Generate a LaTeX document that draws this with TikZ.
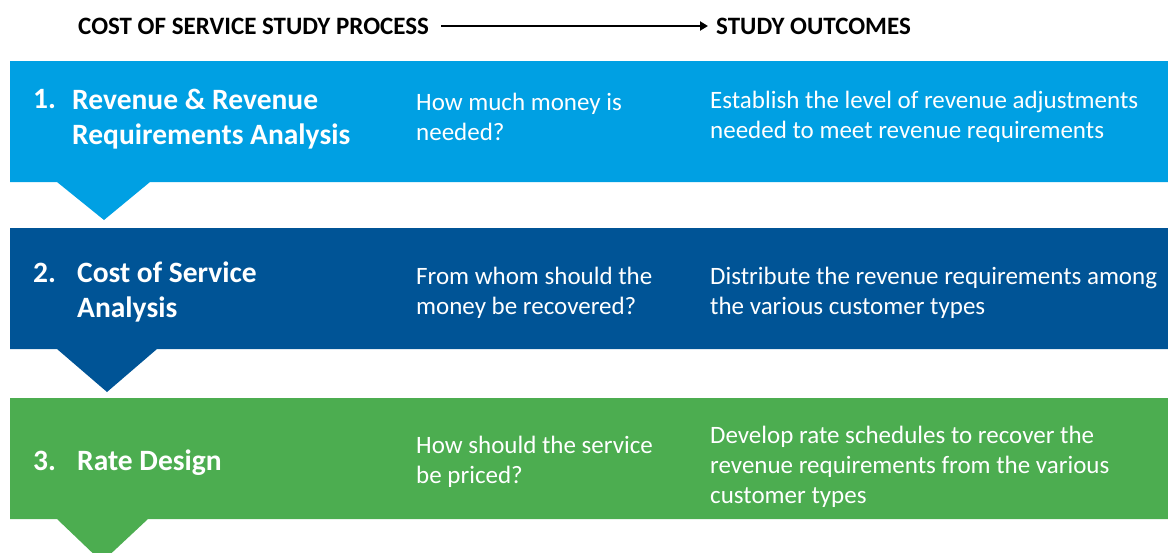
\documentclass[tikz,border=0pt]{standalone}
\usepackage{fontspec}
\setmainfont{Carlito}
\usetikzlibrary{positioning, arrows.meta}
\definecolor{stepone}{RGB}{0,160,227}
\definecolor{steptwo}{RGB}{0,84,150}
\definecolor{stepthree}{RGB}{76,173,80}
\tikzset{
heading/.style={font=\fontsize{25}{30}\selectfont\bfseries, text=black, inner sep=0pt, anchor=west},
steptitle/.style={font=\fontsize{29.5}{35}\selectfont\bfseries, text=white, inner sep=0pt, align=left, anchor=west},
stepbody/.style={font=\fontsize{25}{30}\selectfont, text=white, inner sep=0pt, align=left, anchor=west},
}

\begin{document}
\begin{tikzpicture}[x=1pt, y=-1pt]
    \useasboundingbox (0,0) rectangle (1168,552);
    \clip (0,0) rectangle (1168,552);

    %header
    \node[heading] (process) at (78,26) {COST OF SERVICE STUDY PROCESS};
    \node[heading] (outcomes) at (716,26) {STUDY OUTCOMES};
    \draw[-{Triangle[length=8pt, width=9pt]}, line width=2pt] ([xshift=12pt]process.east) -- ([xshift=-8pt]outcomes.west);

    %bands
    \fill[stepone] (10,61) -- (1168,61) -- (1168,182) -- (150,182) -- (104,220) -- (57,182) -- (10,182) -- cycle;
    \fill[steptwo] (10,228) -- (1168,228) -- (1168,349) -- (157,349) -- (107,392) -- (57,349) -- (10,349) -- cycle;
    \fill[stepthree] (10,398) -- (1168,398) -- (1168,519) -- (148,519) -- (102,562) -- (57,519) -- (10,519) -- cycle;

    %step 1
    \node[steptitle] (num1) at (33,99) {1.};
    \node[steptitle] (title1) at (72,119) {Revenue \& Revenue\\Requirements Analysis};
    \node[stepbody] (ask1) at (416,117) {How much money is\\needed?};
    \node[stepbody] (out1) at (710,117) {Establish the level of revenue adjustments\\needed to meet revenue requirements};

    %step 2
    \node[steptitle] (num2) at (33,273) {2.};
    \node[steptitle] (title2) at (77,292) {Cost of Service\\Analysis};
    \node[stepbody] (ask2) at (416,293) {From whom should the\\money be recovered?};
    \node[stepbody] (out2) at (710,293) {Distribute the revenue requirements among\\the various customer types};

    %step 3
    \node[steptitle] (num3) at (33,461) {3.};
    \node[steptitle] (title3) at (77,463) {Rate Design};
    \node[stepbody] (ask3) at (416,462) {How should the service\\be priced?};
    \node[stepbody] (out3) at (710,467) {Develop rate schedules to recover the\\revenue requirements from the various\\customer types};
\end{tikzpicture}
\end{document}
